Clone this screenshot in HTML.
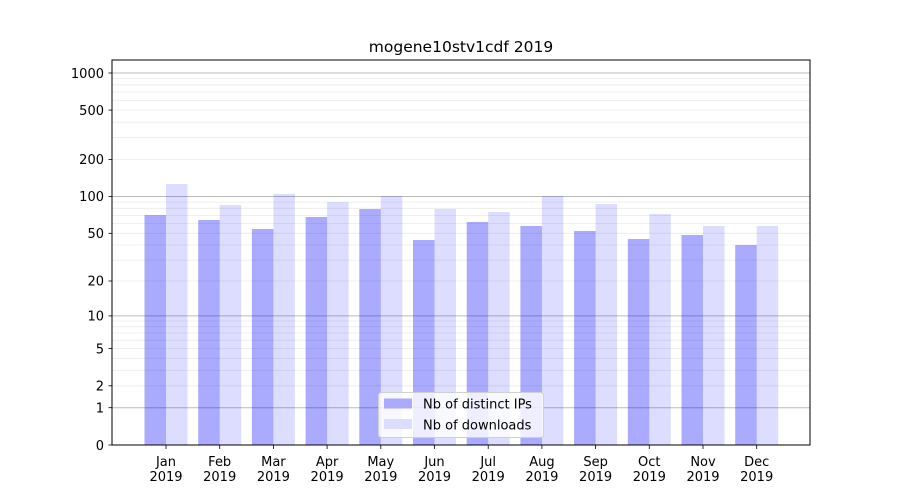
<!DOCTYPE html>
<html><head><meta charset="utf-8"><style>body{margin:0;background:#fff}svg{display:block;font-family:"DejaVu Sans","Liberation Sans",sans-serif}</style></head><body>
<svg width="900" height="500" viewBox="0 0 900 500" xmlns="http://www.w3.org/2000/svg">
<rect width="900" height="500" fill="#fff"/>
<g stroke="#ebebeb" stroke-width="0.8">
<line x1="112" x2="810" y1="385.8" y2="385.8"/><line x1="112" x2="810" y1="370.3" y2="370.3"/><line x1="112" x2="810" y1="358.3" y2="358.3"/><line x1="112" x2="810" y1="348.5" y2="348.5"/><line x1="112" x2="810" y1="340.2" y2="340.2"/><line x1="112" x2="810" y1="333" y2="333"/><line x1="112" x2="810" y1="326.7" y2="326.7"/><line x1="112" x2="810" y1="321" y2="321"/>
<line x1="112" x2="810" y1="281" y2="281"/><line x1="112" x2="810" y1="260.1" y2="260.1"/><line x1="112" x2="810" y1="245" y2="245"/><line x1="112" x2="810" y1="233.3" y2="233.3"/><line x1="112" x2="810" y1="223.6" y2="223.6"/><line x1="112" x2="810" y1="215.4" y2="215.4"/><line x1="112" x2="810" y1="208.3" y2="208.3"/><line x1="112" x2="810" y1="202.1" y2="202.1"/>
<line x1="112" x2="810" y1="159.5" y2="159.5"/><line x1="112" x2="810" y1="137.7" y2="137.7"/><line x1="112" x2="810" y1="122.2" y2="122.2"/><line x1="112" x2="810" y1="110.1" y2="110.1"/><line x1="112" x2="810" y1="100.3" y2="100.3"/><line x1="112" x2="810" y1="92" y2="92"/><line x1="112" x2="810" y1="84.8" y2="84.8"/><line x1="112" x2="810" y1="78.5" y2="78.5"/>
</g>
<g stroke="#bcbcbc" stroke-width="1">
<line x1="112" x2="810" y1="407.7" y2="407.7"/><line x1="112" x2="810" y1="315.9" y2="315.9"/><line x1="112" x2="810" y1="196.5" y2="196.5"/><line x1="112" x2="810" y1="73" y2="73"/>
</g>
<g fill="#0000ff" fill-opacity="0.333">
<rect x="144.5" y="215" width="21.5" height="230"/>
<rect x="198.2" y="220" width="21.5" height="225"/>
<rect x="251.9" y="229" width="21.5" height="216"/>
<rect x="305.6" y="217" width="21.5" height="228"/>
<rect x="359.3" y="209" width="21.5" height="236"/>
<rect x="413" y="240" width="21.5" height="205"/>
<rect x="466.7" y="222" width="21.5" height="223"/>
<rect x="520.4" y="226" width="21.5" height="219"/>
<rect x="574.1" y="231" width="21.5" height="214"/>
<rect x="627.8" y="239" width="21.5" height="206"/>
<rect x="681.5" y="235" width="21.5" height="210"/>
<rect x="735.2" y="245" width="21.5" height="200"/>
</g>
<g fill="#0000ff" fill-opacity="0.133">
<rect x="166" y="184" width="21.5" height="261"/>
<rect x="219.7" y="205" width="21.5" height="240"/>
<rect x="273.4" y="194" width="21.5" height="251"/>
<rect x="327.1" y="202" width="21.5" height="243"/>
<rect x="380.8" y="196" width="21.5" height="249"/>
<rect x="434.5" y="209" width="21.5" height="236"/>
<rect x="488.2" y="212" width="21.5" height="233"/>
<rect x="541.9" y="196" width="21.5" height="249"/>
<rect x="595.6" y="204" width="21.5" height="241"/>
<rect x="649.3" y="214" width="21.5" height="231"/>
<rect x="703" y="226" width="21.5" height="219"/>
<rect x="756.7" y="226" width="21.5" height="219"/>
</g>
<rect x="112" y="60" width="698" height="385" fill="none" stroke="#000" stroke-width="1"/>
<g stroke="#000" stroke-width="0.8">
<line x1="108.5" x2="112" y1="445" y2="445"/><line x1="108.5" x2="112" y1="407.7" y2="407.7"/><line x1="108.5" x2="112" y1="385.8" y2="385.8"/><line x1="108.5" x2="112" y1="348.5" y2="348.5"/><line x1="108.5" x2="112" y1="315.9" y2="315.9"/><line x1="108.5" x2="112" y1="281" y2="281"/><line x1="108.5" x2="112" y1="233.3" y2="233.3"/><line x1="108.5" x2="112" y1="196.5" y2="196.5"/><line x1="108.5" x2="112" y1="159.5" y2="159.5"/><line x1="108.5" x2="112" y1="110.1" y2="110.1"/><line x1="108.5" x2="112" y1="73" y2="73"/>
<line x1="166" x2="166" y1="445" y2="449"/><line x1="219.7" x2="219.7" y1="445" y2="449"/><line x1="273.4" x2="273.4" y1="445" y2="449"/><line x1="327.1" x2="327.1" y1="445" y2="449"/><line x1="380.8" x2="380.8" y1="445" y2="449"/><line x1="434.5" x2="434.5" y1="445" y2="449"/><line x1="488.2" x2="488.2" y1="445" y2="449"/><line x1="541.9" x2="541.9" y1="445" y2="449"/><line x1="595.6" x2="595.6" y1="445" y2="449"/><line x1="649.3" x2="649.3" y1="445" y2="449"/><line x1="703" x2="703" y1="445" y2="449"/><line x1="756.7" x2="756.7" y1="445" y2="449"/>
</g>
<g font-size="13" fill="#000" text-anchor="end">
<text x="104" y="450">0</text><text x="104" y="412.5">1</text><text x="104" y="390.5">2</text><text x="104" y="353.5">5</text><text x="104" y="320.5">10</text><text x="104" y="285.5">20</text><text x="104" y="238">50</text><text x="104" y="201">100</text><text x="104" y="164">200</text><text x="104" y="115">500</text><text x="104" y="78">1000</text>
</g>
<g font-size="13" fill="#000" text-anchor="middle">
<text x="166" y="466">Jan</text><text x="166" y="481">2019</text>
<text x="219.7" y="466">Feb</text><text x="219.7" y="481">2019</text>
<text x="273.4" y="466">Mar</text><text x="273.4" y="481">2019</text>
<text x="327.1" y="466">Apr</text><text x="327.1" y="481">2019</text>
<text x="380.8" y="466">May</text><text x="380.8" y="481">2019</text>
<text x="434.5" y="466">Jun</text><text x="434.5" y="481">2019</text>
<text x="488.2" y="466">Jul</text><text x="488.2" y="481">2019</text>
<text x="541.9" y="466">Aug</text><text x="541.9" y="481">2019</text>
<text x="595.6" y="466">Sep</text><text x="595.6" y="481">2019</text>
<text x="649.3" y="466">Oct</text><text x="649.3" y="481">2019</text>
<text x="703" y="466">Nov</text><text x="703" y="481">2019</text>
<text x="756.7" y="466">Dec</text><text x="756.7" y="481">2019</text>
<text x="461" y="52" font-size="15.5">mogene10stv1cdf 2019</text>
</g>
<rect x="378.5" y="392.5" width="165" height="45" rx="3" fill="#fff" fill-opacity="0.8" stroke="#d0d0d0"/>
<rect x="384" y="398.5" width="28" height="10" fill="#aaaaff"/>
<rect x="384" y="419" width="28" height="10" fill="#ddddff"/>
<g font-size="13" fill="#000">
<text x="423" y="408.5">Nb of distinct IPs</text>
<text x="423" y="429.5">Nb of downloads</text>
</g>
</svg>
</body></html>
